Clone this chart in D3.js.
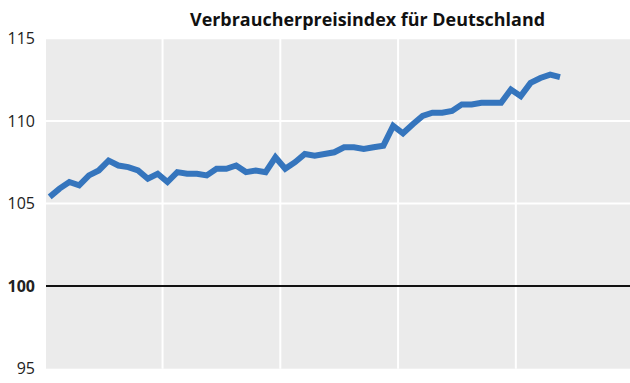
<!DOCTYPE html>
<html>
<head>
<meta charset="utf-8">
<script src="https://cdn.jsdelivr.net/npm/d3@7"></script>
<style>
  html, body { margin: 0; padding: 0; background: #fff; }
  svg { display: block; }
</style>
</head>
<body>
<svg id="chart" width="630" height="383"></svg>
<script>
// Consumer price index, monthly values (5 years of months on the x axis)
const years = [1, 2, 3, 4, 5];
const monthNames = ["Jan", "Feb", "Mär", "Apr", "Mai", "Jun", "Jul", "Aug", "Sep", "Okt", "Nov", "Dez"];
const categories = years.flatMap(y => monthNames.map(m => `${m} ${y}`));

const cpiValues = [
  105.4, 105.9, 106.3, 106.1, 106.7, 107.0, 107.6, 107.3, 107.2, 107.0, 106.5, 106.8,
  106.3, 106.9, 106.8, 106.8, 106.7, 107.1, 107.1, 107.3, 106.9, 107.0, 106.9, 107.8,
  107.1, 107.5, 108.0, 107.9, 108.0, 108.1, 108.4, 108.4, 108.3, 108.4, 108.5, 109.7,
  109.25, 109.8, 110.3, 110.5, 110.5, 110.6, 111.0, 111.0, 111.1, 111.1, 111.1, 111.9,
  111.5, 112.3, 112.6, 112.8, 112.65
];

const yTicks = [95, 100, 105, 110, 115];
const yGrid = [105, 110, 115];
const baseline = 100;
const title = "Verbraucherpreisindex für Deutschland";

const svg = d3.select("#chart");
const plot = { left: 46, right: 630, top: 38.3, bottom: 368.7 };

const x = d3.scaleBand()
  .domain(categories)
  .range([44.8, 633.6])
  .padding(0);

const y = d3.scaleLinear()
  .domain([95, 115])
  .range([plot.bottom, plot.top]);

// plot background
svg.append("rect")
  .attr("x", plot.left)
  .attr("y", plot.top)
  .attr("width", plot.right - plot.left)
  .attr("height", plot.bottom - plot.top)
  .attr("fill", "#ebebeb");

// vertical year separators
const yearStarts = categories.filter((c, i) => i > 0 && i % 12 === 0);
svg.append("g").selectAll("line")
  .data(yearStarts)
  .join("line")
  .attr("x1", d => x(d))
  .attr("x2", d => x(d))
  .attr("y1", plot.top)
  .attr("y2", plot.bottom)
  .attr("stroke", "#fff")
  .attr("stroke-width", 2);

// horizontal grid
svg.append("g").selectAll("line")
  .data(yGrid)
  .join("line")
  .attr("x1", plot.left)
  .attr("x2", plot.right)
  .attr("y1", d => y(d))
  .attr("y2", d => y(d))
  .attr("stroke", "#fff")
  .attr("stroke-width", 2);

// reference line at 100
svg.append("line")
  .attr("x1", plot.left)
  .attr("x2", plot.right)
  .attr("y1", y(baseline))
  .attr("y2", y(baseline))
  .attr("stroke", "#111")
  .attr("stroke-width", 2);

// y axis labels
const yAxis = d3.axisLeft(y).tickValues(yTicks).tickSize(0).tickPadding(0);
const gAxis = svg.append("g")
  .attr("transform", "translate(35,0)")
  .call(yAxis);
gAxis.select(".domain").remove();
gAxis.selectAll("text")
  .attr("font-family", "'Open Sans', 'Noto Sans', sans-serif")
  .attr("font-size", 16)
  .attr("fill", "#222")
  .attr("font-weight", d => d === baseline ? "bold" : "normal");

// CPI line
const line = d3.line()
  .x((d, i) => x(categories[i]) + x.bandwidth() / 2)
  .y(d => y(d));

svg.append("path")
  .datum(cpiValues)
  .attr("d", line)
  .attr("fill", "none")
  .attr("stroke", "#3575bd")
  .attr("stroke-width", 6)
  .attr("stroke-linejoin", "miter");

// title
svg.append("text")
  .attr("x", 367.5)
  .attr("y", 26)
  .attr("text-anchor", "middle")
  .attr("font-family", "'Open Sans', 'Noto Sans', sans-serif")
  .attr("font-weight", "bold")
  .attr("font-size", 18)
  .attr("fill", "#111")
  .attr("textLength", 355)
  .attr("lengthAdjust", "spacingAndGlyphs")
  .text(title);
</script>
</body>
</html>
